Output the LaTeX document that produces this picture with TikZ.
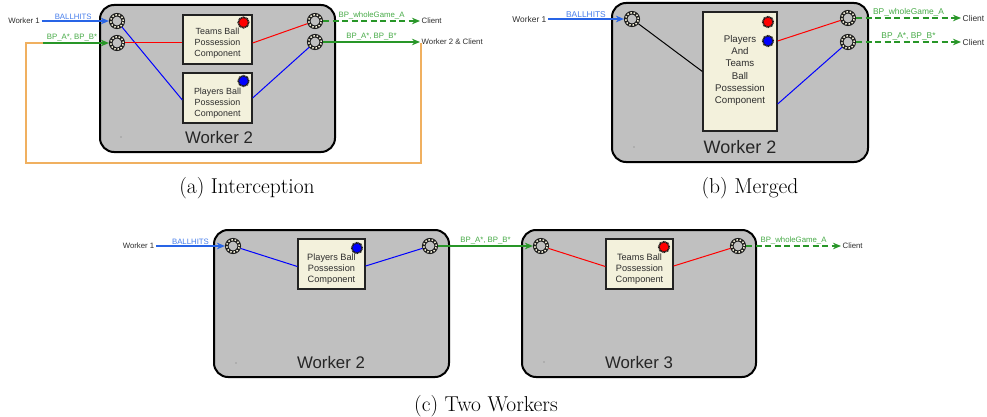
\documentclass[tikz,border=0pt]{standalone}
\usepackage{fontspec}
\newfontfamily\arial{Liberation Sans}
\usetikzlibrary{arrows.meta}

% palette
\definecolor{wfill}{RGB}{192,192,192}
\definecolor{cfill}{RGB}{243,241,220}
\definecolor{cedge}{RGB}{34,34,34}
\definecolor{ringdark}{RGB}{28,28,28}
\definecolor{ringdot}{RGB}{246,242,218}
\definecolor{inblue}{RGB}{40,100,230}
\definecolor{lblblue}{RGB}{70,125,235}
\definecolor{flowgreen}{RGB}{40,150,40}
\definecolor{lblgreen}{RGB}{70,170,70}
\definecolor{loopor}{RGB}{240,176,96}
\definecolor{txtgray}{RGB}{45,45,45}

% font sizes
\newcommand\compA{\arial\fontsize{8.9}{11}\selectfont}
\newcommand\compB{\arial\fontsize{9.7}{12.3}\selectfont}
\newcommand\compC{\arial\fontsize{9.2}{11.3}\selectfont}
\newcommand\smallA{\arial\fontsize{7.8}{9}\selectfont}
\newcommand\smallB{\arial\fontsize{8.4}{10}\selectfont}
\newcommand\workA{\arial\fontsize{16.8}{18}\selectfont}
\newcommand\workB{\arial\fontsize{18}{20}\selectfont}
\newcommand\capfont{\fontsize{21.5}{26}\selectfont}

\tikzset{
  worker/.style={draw=black, line width=2pt, fill=wfill, rounded corners=14pt},
  port/.style={circle, minimum size=12.5pt, inner sep=0pt, draw=ringdark, line width=3.6pt, fill=wfill,
    postaction={draw=ringdot, line width=1.5pt, dash pattern=on 1.5pt off 1.8pt}},
  comp/.style={draw=cedge, line width=1.3pt, fill=cfill, inner sep=0pt},
  ctext/.style={align=center, text=txtgray, inner sep=0pt},
  flag/.style={circle, minimum size=10.5pt, inner sep=0pt, draw=ringdark, line width=1.7pt,
    dash pattern=on 1pt off 0.6pt},
  wire/.style={line width=1pt},
  flow/.style={line width=1.3pt, -{Stealth[length=8pt,width=6.5pt,inset=2.5pt]}},
  bluefl/.style={flow, draw=inblue},
  greenfl/.style={flow, draw=flowgreen},
  dashfl/.style={greenfl, dash pattern=on 6pt off 3.5pt},
  smalltxt/.style={text=txtgray, inner sep=1.5pt},
  lbl/.style={above, inner sep=1pt},
  wlabel/.style={text=black!85, inner sep=0pt},
  subcap/.style={font=\capfont, inner sep=0pt, anchor=base},
  loopline/.style={draw=loopor, line width=1.4pt},
  speck/.style={fill=black!55}
}

\begin{document}
\begin{tikzpicture}[x=1pt, y=-1pt]
\useasboundingbox (0,0) rectangle (987,417);

% ===================== (a) Interception =====================
\draw[worker] (100,5) rectangle (335,152);
\node[port] (ai1) at (117,21) {};
\node[port] (ai2) at (117,43) {};
\node[port] (ao1) at (315,21) {};
\node[port] (ao2) at (315,42) {};
\node[comp, minimum width=69pt, minimum height=49pt] (aT) at (217.5,39.5) {};
\node[ctext, font=\compA] (aTt) at (217.5,43.4) {Teams Ball\\Possession\\Component};
\node[flag, fill=red] (aTf) at (243.5,22.5) {};
\node[comp, minimum width=69pt, minimum height=50pt] (aP) at (217.5,98) {};
\node[ctext, font=\compA] (aPt) at (217.5,102.8) {Players Ball\\Possession\\Component};
\node[flag, fill=blue] (aPf) at (243.5,81) {};

\draw[wire, blue] (ai1) -- ([yshift=-2pt]aP.west);
\draw[wire, red] (ai2) -- (ai2 -| aT.west);
\draw[wire, red] (ai2 -| aT.east) -- (ao1);
\draw[wire, blue] (aP.east) -- (ao2);

\node[wlabel, font=\workA] (aW) at (219,137) {Worker 2};
\fill[speck] (121,137) circle (0.7);

\node[smalltxt, font=\smallA, anchor=east] (aw1) at (41.5,21) {Worker 1};
\draw[bluefl] (aw1) -- node[lbl, pos=0.47, font=\smallA, text=lblblue] (aBH) {BALLHITS} (ai1);
\coordinate (aloopL) at (43,43);
\coordinate (aloopB) at (26,163);
\coordinate (aloopR) at (421,43);
\draw[loopline] (aloopR) |- (aloopB) |- (aloopL);
\draw[greenfl] (aloopL) -- node[lbl, pos=0.44, font=\smallA, text=lblgreen] (aBP) {BP\_A*, BP\_B*} (ai2);

\node[smalltxt, font=\smallA, anchor=west] (ac1) at (420,21) {Client};
\draw[dashfl] (ao1) -- node[lbl, font=\smallA, text=lblgreen] (aWG) {BP\_wholeGame\_A} (ac1);
\node[smalltxt, font=\smallA, anchor=west] (ac2) at (420,42) {Worker 2 \& Client};
\draw[greenfl] (ao2) -- node[lbl, font=\smallA, text=lblgreen] (aBP2) {BP\_A*, BP\_B*} (ac2);

\node[subcap] (capA) at (247,193) {(a) Interception};

% ===================== (b) Merged =====================
\draw[worker] (612,3) rectangle (868,162);
\node[port] (bi) at (632,19) {};
\node[port] (bo1) at (848,18) {};
\node[port] (bo2) at (848,42) {};
\node[comp, minimum width=74pt, minimum height=119pt] (bC) at (740,71.5) {};
\node[ctext, font=\compB] (bCt) at (740,70.5) {Players\\And\\Teams\\Ball\\Possession\\Component};
\node[flag, fill=red] (bCr) at (768,22) {};
\node[flag, fill=blue] (bCb) at (768,41) {};

\draw[wire, black] (bi) -- (bC.west);
\draw[wire, red] (bCb -| bC.east) -- (bo1);
\draw[wire, blue] ([yshift=-32.5pt]bC.east) -- (bo2);

\node[wlabel, font=\workB] (bW) at (740,147) {Worker 2};
\fill[speck] (634,147) circle (0.7);

\node[smalltxt, font=\smallB, anchor=east] (bw1) at (548,19) {Worker 1};
\draw[bluefl] (bw1) -- node[lbl, font=\smallB, text=lblblue] (bBH) {BALLHITS} (bi);
\node[smalltxt, font=\smallB, anchor=west] (bc1) at (961,18) {Client};
\draw[dashfl] (bo1) -- node[lbl, font=\smallB, text=lblgreen] (bWG) {BP\_wholeGame\_A} (bc1);
\node[smalltxt, font=\smallB, anchor=west] (bc2) at (961,42) {Client};
\draw[dashfl] (bo2) -- node[lbl, font=\smallB, text=lblgreen] (bBP) {BP\_A*, BP\_B*} (bc2);

\node[subcap] (capB) at (750,193) {(b) Merged};

% ===================== (c) Two Workers =====================
\draw[worker] (214,230) rectangle (449,377);
\node[port] (cin) at (233,246) {};
\node[port] (cmid) at (430,246) {};
\node[comp, minimum width=67pt, minimum height=50pt] (cP) at (331.5,264) {};
\node[ctext, font=\compC] (cPt) at (331.5,269) {Players Ball\\Possession\\Component};
\node[flag, fill=blue] (cPf) at (357,248) {};
\draw[wire, blue] (cin) -- ([yshift=-2.5pt]cP.west);
\draw[wire, blue] ([yshift=-2pt]cP.east) -- (cmid);
\node[wlabel, font=\workA] (cW2) at (331,362) {Worker 2};
\fill[speck] (236,363) circle (0.7);

\draw[worker] (522,230) rectangle (756,377);
\node[port] (cjoin) at (541,246) {};
\node[port] (cout) at (738,246) {};
\node[comp, minimum width=67pt, minimum height=50pt] (cT) at (639.5,264) {};
\node[ctext, font=\compC] (cTt) at (639.5,269) {Teams Ball\\Possession\\Component};
\node[flag, fill=red] (cTf) at (664,247) {};
\draw[wire, red] (cjoin) -- ([yshift=-2.5pt]cT.west);
\draw[wire, red] ([yshift=-2pt]cT.east) -- (cout);
\node[wlabel, font=\workA] (cW3) at (639,362) {Worker 3};
\fill[speck] (544,362) circle (0.7);

\node[smalltxt, font=\smallA, anchor=east] (cw1) at (156,246) {Worker 1};
\draw[bluefl] (cw1) -- node[lbl, font=\smallA, text=lblblue] (cBH) {BALLHITS} (cin);
\draw[greenfl] (cmid) -- node[lbl, font=\smallA, text=lblgreen] (cBP) {BP\_A*, BP\_B*} (cjoin);
\node[smalltxt, font=\smallA, anchor=west] (ccl) at (841,246) {Client};
\draw[dashfl] (cout) -- node[lbl, font=\smallA, text=lblgreen] (cWG) {BP\_wholeGame\_A} (ccl);

\node[subcap] (capC) at (486,411) {(c) Two Workers};
\end{tikzpicture}
\end{document}
